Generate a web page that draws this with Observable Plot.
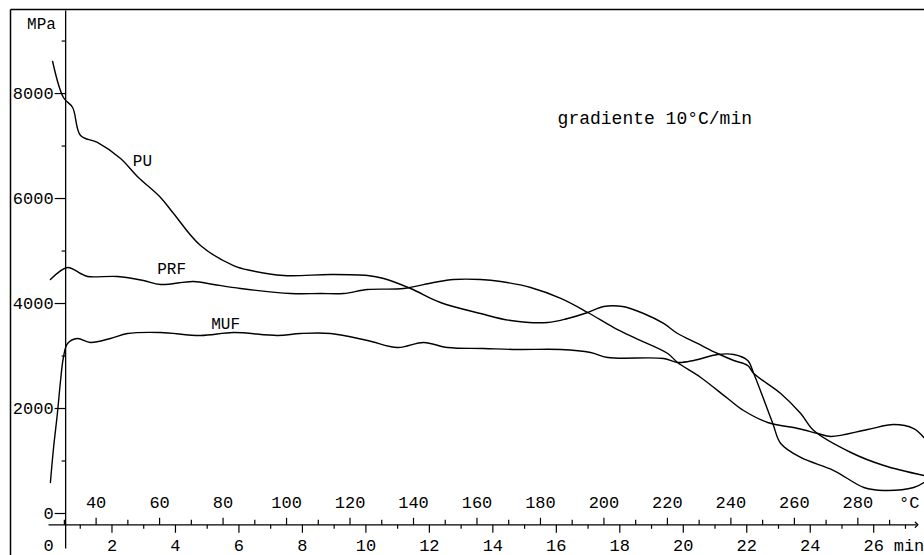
<!DOCTYPE html>
<html>
<head>
<meta charset="utf-8">
<script src="https://cdn.jsdelivr.net/npm/d3@7"></script>
<script src="https://cdn.jsdelivr.net/npm/@observablehq/plot@0.6"></script>
<style>
  html, body { margin: 0; padding: 0; background: #fff; }
  #chart svg { display: block; }
</style>
</head>
<body>
<div id="chart"></div>
<script>
// ---- data (time in min, modulus in MPa) ----
const puT  = [0.13,0.47,0.76,1.01,1.54,2.27,2.80,3.53,3.94,4.79,5.83,6.37,7.41,8.89,10.05,10.56,11.41,12.35,13.61,14.56,15.73,16.36,16.99,17.49,18.09,18.75,19.38,19.82,20.45,21.08,21.59,22.03,22.22,23.07,23.70,24.11,25.28,26.32,27.58];
const puV  = [8610,7925,7734,7200,7068,6763,6420,6020,5715,5105,4724,4629,4534,4553,4534,4477,4286,4020,3810,3677,3639,3715,3829,3943,3943,3810,3620,3429,3239,3048,2915,2819,2667,2286,1905,1580,1162,914,724];

const prfT = [0.06,0.60,1.01,1.23,2.17,2.99,3.53,4.57,5.20,6.05,7.63,8.57,9.30,10.05,11.19,12.13,12.76,13.61,14.25,15.19,16.14,16.99,17.81,18.44,19.51,19.82,20.55,21.40,21.90,22.66,23.61,24.24,24.65,25.81,26.63,27.26,27.58];
const prfV = [4458,4686,4572,4515,4515,4439,4362,4420,4362,4286,4191,4191,4191,4267,4286,4400,4458,4458,4420,4305,4096,3829,3543,3353,3048,2877,2591,2191,1962,1734,1619,1524,1467,1600,1695,1619,1448];

const mufT = [0.06,0.16,0.28,0.38,0.47,0.60,0.91,1.32,1.95,2.49,3.53,4.79,5.83,7.22,7.94,8.89,10.05,11.00,11.82,12.57,13.71,14.78,16.14,17.08,17.62,19.38,19.82,20.33,21.08,21.59,22.03,22.22,22.82,23.07,23.70,24.74,25.69,26.32,27.26,27.58];
const mufV = [591,1257,1905,2534,2972,3239,3334,3258,3334,3429,3448,3391,3448,3391,3429,3429,3296,3162,3258,3162,3143,3124,3124,3067,2972,2953,2877,2915,3029,3029,2915,2667,1715,1334,1067,819,495,438,495,591];

const seriesNames = ["PU", "PRF", "MUF"];
const labelT = [2.96, 3.88, 5.58];
const labelV = [6725, 4667, 3620];

const yMajorTicks = [0, 2000, 4000, 6000, 8000];
const yMinorTicks = [1000, 3000, 5000, 7000, 9000];
const minuteLabels = [0, 2, 4, 6, 8, 10, 12, 14, 16, 18, 20, 22, 24, 26];
const tempLabels = [40, 60, 80, 100, 120, 140, 160, 180, 200, 220, 240, 260, 280];
const annotation = "gradiente 10°C/min";

// ---- build tables ----
const rows = [];
[[puT, puV], [prfT, prfV], [mufT, mufV]].forEach(([ts, vs], i) => {
  ts.forEach((t, j) => rows.push({ s: seriesNames[i], t, v: vs[j] }));
});
const seriesLabels = seriesNames.map((s, i) => ({ s, t: labelT[i], v: labelV[i] }));

// layout helpers
const W = 924, H = 555;
const mT = 10, mB = 42, mL = 48, mR = 0;
const yTop = 9582, xMax = 27.6;
const vpp = yTop / (H - mT - mB);           // MPa per pixel
const tpp = xMax / (W - mL - mR);           // minutes per pixel
const tempToT = T => (T - 25) / 10;         // heating 10 °C/min
const yAxisT = 0.54;                        // position of vertical axis
const xAxisV = -215;                        // position of horizontal axis
const font = "Liberation Mono, Courier New, monospace";

const tempTicks = d3.range(30, 291, 10).map(T => ({ t: tempToT(T), major: T % 20 === 0 }));
const minTicks = d3.range(1, 28).map(m => ({ t: m, major: m % 2 === 0 }));
const yTicks = [...yMajorTicks.map(v => ({ v, major: true })), ...yMinorTicks.map(v => ({ v, major: false }))];

const chart = Plot.plot({
  width: W, height: H,
  marginTop: mT, marginBottom: mB, marginLeft: mL, marginRight: mR,
  x: { domain: [0, xMax], axis: null },
  y: { domain: [0, yTop], axis: null },
  style: { fontFamily: font, background: "#fff", color: "#000", overflow: "visible" },
  marks: [
    // outer frame (left and top)
    Plot.link([0], { x1: -38 * tpp, x2: -38 * tpp, y1: yTop + 1 * vpp, y2: -42 * vpp, stroke: "#000", strokeWidth: 1.5 }),
    Plot.link([0], { x1: -38 * tpp, x2: xMax, y1: yTop + 1 * vpp, y2: yTop + 1 * vpp, stroke: "#000", strokeWidth: 1.5 }),
    // vertical axis
    Plot.link([0], { x1: yAxisT, x2: yAxisT, y1: yTop, y2: -35 * vpp, stroke: "#000", strokeWidth: 1.3 }),
    Plot.link(yTicks, { x1: d => yAxisT - (d.major ? 11 : 4) * tpp, x2: yAxisT, y1: "v", y2: "v", stroke: "#000", strokeWidth: 1.2 }),
    Plot.text(yMajorTicks, { x: yAxisT - 11 * tpp, y: d => d, text: d => String(d), textAnchor: "end", fontSize: 17, dx: -1 }),
    Plot.text(["MPa"], { x: -0.22, y: 9334, text: d => d, fontSize: 16 }),
    // horizontal axis with arrow
    Plot.link([0], { x1: 0, x2: 27.35, y1: xAxisV, y2: xAxisV, stroke: "#000", strokeWidth: 1.3, markerEnd: "arrow" }),
    Plot.link(tempTicks, { x1: "t", x2: "t", y1: xAxisV, y2: d => xAxisV + (d.major ? 7 : 5) * vpp, stroke: "#000", strokeWidth: 1.2 }),
    Plot.link(minTicks, { x1: "t", x2: "t", y1: xAxisV, y2: d => xAxisV - (d.major ? 8 : 4) * vpp, stroke: "#000", strokeWidth: 1.2 }),
    Plot.text(tempLabels, { x: tempToT, y: xAxisV + 22 * vpp, text: d => String(d), fontSize: 17 }),
    Plot.text(["°C"], { x: 27.12, y: xAxisV + 22 * vpp, text: d => d, fontSize: 17 }),
    Plot.text(minuteLabels, { x: d => d, y: xAxisV - 21 * vpp, text: d => String(d), fontSize: 17 }),
    Plot.text(["min"], { x: 26.63, y: xAxisV - 21 * vpp, text: d => d, textAnchor: "start", fontSize: 17 }),
    // curves
    Plot.line(rows, { x: "t", y: "v", z: "s", stroke: "#000", strokeWidth: 1.4, curve: "catmull-rom" }),
    Plot.text(seriesLabels, { x: "t", y: "v", text: "s", fontSize: 16 }),
    Plot.text([annotation], { x: 16.04, y: 7525, text: d => d, textAnchor: "start", fontSize: 18 })
  ]
});
document.getElementById("chart").appendChild(chart);
</script>
</body>
</html>
